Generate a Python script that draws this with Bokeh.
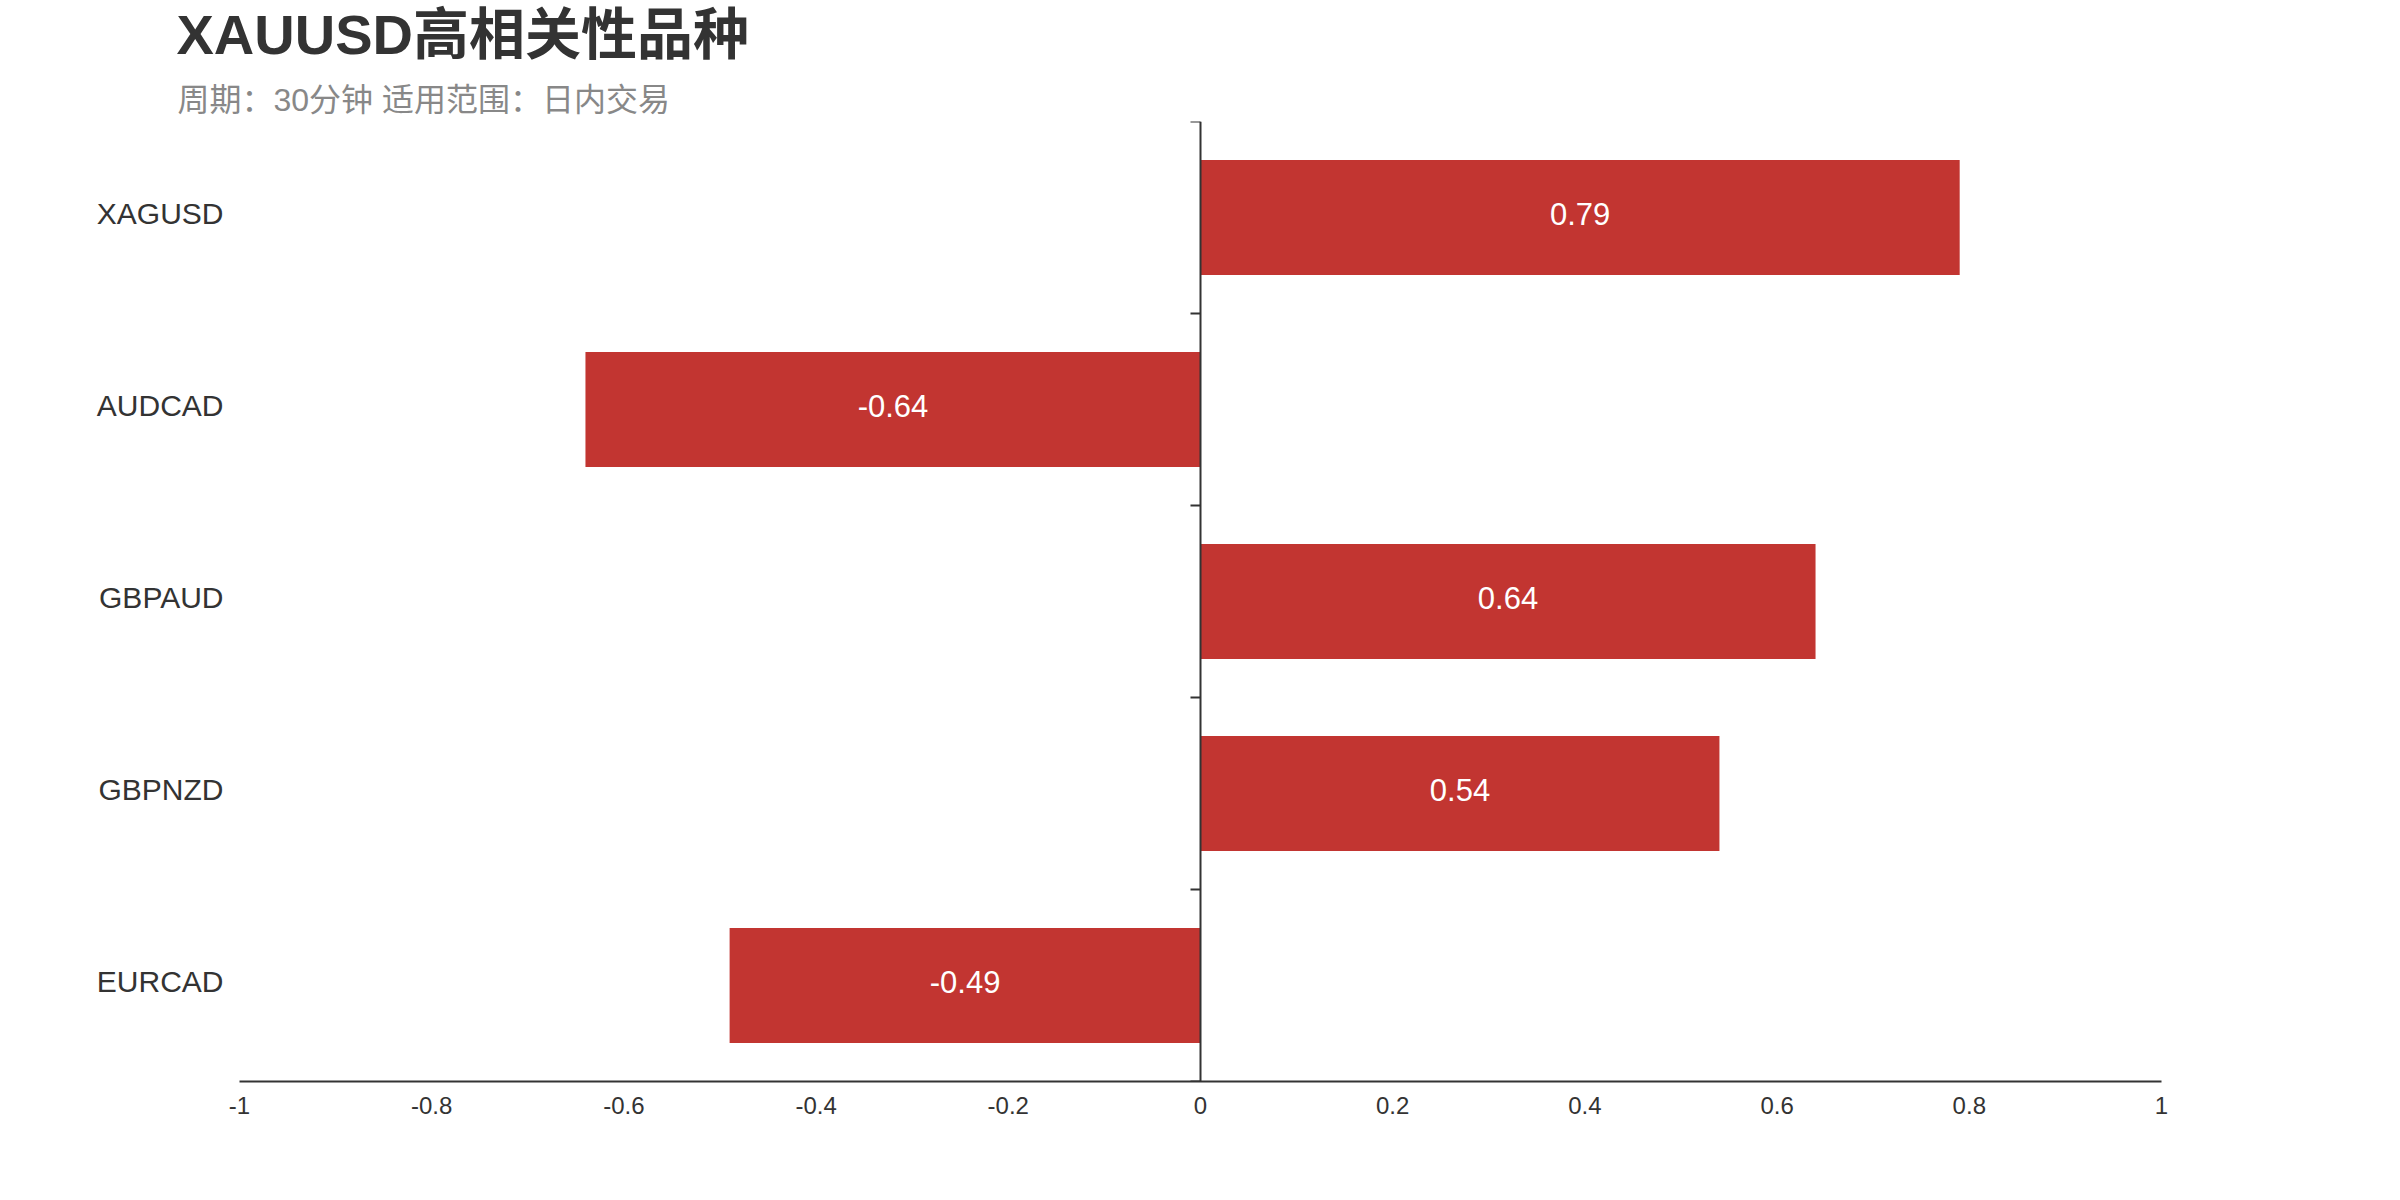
from bokeh.plotting import figure
from bokeh.layouts import column
from bokeh.models import (ColumnDataSource, LinearAxis, FixedTicker,
                          CustomJSTickFormatter, Range1d, Label)
from bokeh.embed import file_html
from bokeh.resources import INLINE
from bokeh.core.properties import value

title_text = "XAUUSD高相关性品种"
subtitle_text = "周期：30分钟 适用范围：日内交易"
symbols = ["XAGUSD", "AUDCAD", "GBPAUD", "GBPNZD", "EURCAD"]
correlations = [0.79, -0.64, 0.64, 0.54, -0.49]
x_ticks = [-1, -0.8, -0.6, -0.4, -0.2, 0, 0.2, 0.4, 0.6, 0.8, 1]
x_tick_labels = ["-1", "-0.8", "-0.6", "-0.4", "-0.2", "0", "0.2", "0.4", "0.6", "0.8", "1"]

FONT = "Liberation Sans, Noto Sans CJK SC"
BAR = "#c23531"
DARK = "#333333"
LABEL_NUDGE = 0.02   # small upward visual nudge of category labels (band units)
TOTAL_W = 2392
HEAD_H = 119

n = len(symbols)
ypos = [n - i - 0.5 for i in range(n)]
source = ColumnDataSource(dict(
    y=ypos,
    v=correlations,
    mid=[c / 2 for c in correlations],
    lbl=[f"{c:.2f}" for c in correlations],
))

# ---- header (title + subtitle) ----
head = figure(width=TOTAL_W, height=HEAD_H,
              x_range=Range1d(0, TOTAL_W), y_range=Range1d(HEAD_H, 0),
              x_axis_type=None, y_axis_type=None,
              output_backend="svg", toolbar_location=None, title=None,
              min_border=0, min_border_left=0, min_border_right=0,
              min_border_top=0, min_border_bottom=0)
head.grid.visible = False
head.outline_line_color = None
head.border_fill_color = "white"
head.background_fill_color = "white"
head.add_layout(Label(text=title_text, x=176, y=34,
                      text_font=FONT, text_font_size="56px", text_font_style="bold",
                      text_color=DARK, text_align="left", text_baseline="middle"))
head.add_layout(Label(text=subtitle_text, x=177, y=99,
                      text_font=FONT, text_font_size="32px",
                      text_color="#888888", text_align="left", text_baseline="middle"))

# ---- main chart ----
p = figure(frame_width=1922, frame_height=960,
           x_range=Range1d(-1, 1), y_range=Range1d(0, n),
           output_backend="svg", toolbar_location=None, title=None,
           min_border_left=239, min_border_right=231,
           min_border_top=2, min_border_bottom=111)
p.outline_line_color = None
p.xgrid.visible = False
p.ygrid.visible = False
p.background_fill_color = "white"
p.border_fill_color = "white"

# keep the header's frame independent from the chart's frame
for fig in (head, p):
    try:
        fig.frame_align = False
    except Exception:
        pass

p.hbar(y="y", left=0, right="v", height=0.6, source=source,
       fill_color=BAR, line_color=None)
p.text(x="mid", y="y", text="lbl", source=source, y_offset=-4,
       text_align="center", text_baseline="middle",
       text_color="white", text_font=value(FONT), text_font_size="31px")

# x axis
xa = p.xaxis[0]
xa.ticker = FixedTicker(ticks=x_ticks)
xa.formatter = CustomJSTickFormatter(args=dict(vals=x_ticks, labels=x_tick_labels), code="""
const i = vals.findIndex(v => Math.abs(v - tick) < 1e-9);
return i >= 0 ? labels[i] : '';
""")
xa.axis_line_color = DARK
xa.axis_line_width = 2
xa.major_tick_out = 0
xa.major_tick_in = 0
xa.minor_tick_out = 0
xa.minor_tick_in = 0
xa.major_label_standoff = 15
xa.major_label_text_font = FONT
xa.major_label_text_font_size = "24px"
xa.major_label_text_color = DARK

# category label axis (left)
label_ticks = [y + LABEL_NUDGE for y in ypos]
ya = p.yaxis[0]
ya.ticker = FixedTicker(ticks=label_ticks)
ya.formatter = CustomJSTickFormatter(args=dict(vals=label_ticks, labels=symbols), code="""
const i = vals.findIndex(v => Math.abs(v - tick) < 1e-6);
return i >= 0 ? labels[i] : '';
""")
ya.axis_line_color = None
ya.major_tick_out = 0
ya.major_tick_in = 0
ya.minor_tick_out = 0
ya.minor_tick_in = 0
ya.major_label_standoff = 16
ya.major_label_text_font = FONT
ya.major_label_text_font_size = "30px"
ya.major_label_text_color = DARK

# zero-line axis with boundary ticks
boundaries = list(range(n + 1))
za = LinearAxis(fixed_location=0, ticker=FixedTicker(ticks=boundaries),
                formatter=CustomJSTickFormatter(code="return '';"))
za.axis_line_color = DARK
za.axis_line_width = 2
za.major_tick_line_color = DARK
za.major_tick_line_width = 2
za.major_tick_out = 0
za.major_tick_in = 10
za.minor_tick_out = 0
za.minor_tick_in = 0
za.major_label_text_font_size = "0px"
p.add_layout(za, "right")

layout = column(head, p, spacing=0)
open("out.html", "w").write(file_html(layout, INLINE))
